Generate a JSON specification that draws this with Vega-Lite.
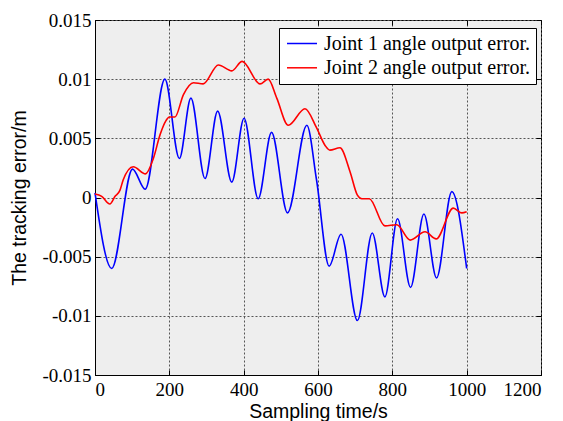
{
  "$schema": "https://vega.github.io/schema/vega-lite/v6.json",
  "width": 446,
  "height": 355,
  "autosize": {"type": "none"},
  "padding": {"left": 95, "top": 20, "right": 22, "bottom": 46},
  "background": "white",
  "config": {
    "view": {"fill": "#eeeeee", "stroke": "black", "strokeWidth": 1},
    "axis": {
      "domainColor": "black",
      "tickColor": "black",
      "labelColor": "black",
      "titleColor": "black",
      "labelFont": "Liberation Serif",
      "labelFontSize": 19,
      "titleFont": "Liberation Sans",
      "titleFontSize": 19.5,
      "titleFontWeight": "normal",
      "gridColor": "#555555",
      "gridDash": [2, 2],
      "gridOpacity": 1,
      "gridWidth": 1
    }
  },
  "datasets": {
    "err": [
      {"t": 0, "e": 0.0004, "joint": "Joint 1 angle output error."},
      {"t": 45, "e": -0.006, "joint": "Joint 1 angle output error."},
      {"t": 101, "e": 0.0024, "joint": "Joint 1 angle output error."},
      {"t": 135, "e": 0.0007, "joint": "Joint 1 angle output error."},
      {"t": 188, "e": 0.01, "joint": "Joint 1 angle output error."},
      {"t": 227, "e": 0.0033, "joint": "Joint 1 angle output error."},
      {"t": 258, "e": 0.0084, "joint": "Joint 1 angle output error."},
      {"t": 296, "e": 0.0016, "joint": "Joint 1 angle output error."},
      {"t": 330, "e": 0.0073, "joint": "Joint 1 angle output error."},
      {"t": 368, "e": 0.0013, "joint": "Joint 1 angle output error."},
      {"t": 401, "e": 0.0067, "joint": "Joint 1 angle output error."},
      {"t": 439, "e": -0.0001, "joint": "Joint 1 angle output error."},
      {"t": 475, "e": 0.0055, "joint": "Joint 1 angle output error."},
      {"t": 518, "e": -0.0013, "joint": "Joint 1 angle output error."},
      {"t": 570, "e": 0.0061, "joint": "Joint 1 angle output error."},
      {"t": 596, "e": 0.0015, "joint": "Joint 1 angle output error."},
      {"t": 630, "e": -0.0058, "joint": "Joint 1 angle output error."},
      {"t": 662, "e": -0.0031, "joint": "Joint 1 angle output error."},
      {"t": 706, "e": -0.0104, "joint": "Joint 1 angle output error."},
      {"t": 746, "e": -0.003, "joint": "Joint 1 angle output error."},
      {"t": 780, "e": -0.0084, "joint": "Joint 1 angle output error."},
      {"t": 814, "e": -0.0018, "joint": "Joint 1 angle output error."},
      {"t": 849, "e": -0.0076, "joint": "Joint 1 angle output error."},
      {"t": 885, "e": -0.0014, "joint": "Joint 1 angle output error."},
      {"t": 919, "e": -0.0068, "joint": "Joint 1 angle output error."},
      {"t": 960, "e": 0.0005, "joint": "Joint 1 angle output error."},
      {"t": 1000, "e": -0.006, "joint": "Joint 1 angle output error."},
      {"t": 0, "e": 0.0003, "joint": "Joint 2 angle output error."},
      {"t": 18, "e": 0.0001, "joint": "Joint 2 angle output error."},
      {"t": 40, "e": -0.00055, "joint": "Joint 2 angle output error."},
      {"t": 54, "e": 0.0001, "joint": "Joint 2 angle output error."},
      {"t": 67, "e": 0.0006, "joint": "Joint 2 angle output error."},
      {"t": 76, "e": 0.0015, "joint": "Joint 2 angle output error."},
      {"t": 103, "e": 0.0026, "joint": "Joint 2 angle output error."},
      {"t": 136, "e": 0.002, "joint": "Joint 2 angle output error."},
      {"t": 157, "e": 0.0033, "joint": "Joint 2 angle output error."},
      {"t": 175, "e": 0.0053, "joint": "Joint 2 angle output error."},
      {"t": 191, "e": 0.0065, "joint": "Joint 2 angle output error."},
      {"t": 200, "e": 0.0068, "joint": "Joint 2 angle output error."},
      {"t": 215, "e": 0.0068, "joint": "Joint 2 angle output error."},
      {"t": 238, "e": 0.0087, "joint": "Joint 2 angle output error."},
      {"t": 265, "e": 0.0097, "joint": "Joint 2 angle output error."},
      {"t": 291, "e": 0.0096, "joint": "Joint 2 angle output error."},
      {"t": 332, "e": 0.0112, "joint": "Joint 2 angle output error."},
      {"t": 368, "e": 0.0107, "joint": "Joint 2 angle output error."},
      {"t": 396, "e": 0.0115, "joint": "Joint 2 angle output error."},
      {"t": 444, "e": 0.0096, "joint": "Joint 2 angle output error."},
      {"t": 466, "e": 0.01, "joint": "Joint 2 angle output error."},
      {"t": 489, "e": 0.0084, "joint": "Joint 2 angle output error."},
      {"t": 520, "e": 0.0061, "joint": "Joint 2 angle output error."},
      {"t": 565, "e": 0.0075, "joint": "Joint 2 angle output error."},
      {"t": 596, "e": 0.0059, "joint": "Joint 2 angle output error."},
      {"t": 619, "e": 0.0044, "joint": "Joint 2 angle output error."},
      {"t": 632, "e": 0.004, "joint": "Joint 2 angle output error."},
      {"t": 659, "e": 0.0042, "joint": "Joint 2 angle output error."},
      {"t": 686, "e": 0.0022, "joint": "Joint 2 angle output error."},
      {"t": 706, "e": 0.0002, "joint": "Joint 2 angle output error."},
      {"t": 718, "e": -0.0001, "joint": "Joint 2 angle output error."},
      {"t": 738, "e": -0.0001, "joint": "Joint 2 angle output error."},
      {"t": 780, "e": -0.0024, "joint": "Joint 2 angle output error."},
      {"t": 812, "e": -0.0023, "joint": "Joint 2 angle output error."},
      {"t": 848, "e": -0.0036, "joint": "Joint 2 angle output error."},
      {"t": 888, "e": -0.0029, "joint": "Joint 2 angle output error."},
      {"t": 918, "e": -0.0035, "joint": "Joint 2 angle output error."},
      {"t": 964, "e": -0.0009, "joint": "Joint 2 angle output error."},
      {"t": 987, "e": -0.0013, "joint": "Joint 2 angle output error."},
      {"t": 1000, "e": -0.0012, "joint": "Joint 2 angle output error."}
    ]
  },
  "data": {"name": "err"},
  "layer": [
    {
      "mark": {"type": "line", "interpolate": "monotone", "strokeWidth": 1.6},
      "encoding": {
        "x": {
          "field": "t", "type": "quantitative",
          "scale": {"domain": [0, 1200], "nice": false, "zero": false},
          "axis": {
            "orient": "bottom", "title": "Sampling time/s",
            "values": [0, 200, 400, 600, 800, 1000, 1200],
            "format": "d", "grid": true, "tickSize": -5, "labelPadding": 10,
            "titlePadding": 3
          }
        },
        "y": {
          "field": "e", "type": "quantitative",
          "scale": {"domain": [-0.015, 0.015], "nice": false, "zero": false},
          "axis": {
            "orient": "left", "title": "The tracking error/m",
            "values": [-0.015, -0.01, -0.005, 0, 0.005, 0.01, 0.015],
            "labelExpr": "replace(format(datum.value, '~g'), '\u2212', '-')",
            "grid": true, "tickSize": -5, "labelPadding": 9,
            "titlePadding": 12
          }
        },
        "color": {
          "field": "joint", "type": "nominal",
          "scale": {"domain": ["Joint 1 angle output error.", "Joint 2 angle output error."], "range": ["#0000ff", "#ff0000"]},
          "legend": {
            "orient": "none", "legendX": 184, "legendY": 8, "title": null,
            "strokeColor": "black", "fillColor": "white", "padding": 5.5,
            "symbolType": "M-1,0H3", "symbolSize": 225, "symbolStrokeWidth": 1.5,
            "labelFont": "Liberation Serif", "labelFontSize": 20, "labelColor": "black",
            "labelOffset": 19.5, "rowPadding": 4.3, "labelLimit": 400
          }
        }
      }
    },
    {
      "mark": {"type": "point", "opacity": 0},
      "encoding": {
        "x": {
          "field": "t", "type": "quantitative",
          "axis": {"orient": "top", "title": null, "labels": false, "grid": false, "domain": false,
                   "values": [0, 200, 400, 600, 800, 1000, 1200], "tickSize": -5}
        },
        "y": {
          "field": "e", "type": "quantitative",
          "axis": {"orient": "right", "title": null, "labels": false, "grid": false, "domain": false,
                   "values": [-0.015, -0.01, -0.005, 0, 0.005, 0.01, 0.015], "tickSize": -5}
        }
      }
    }
  ],
  "resolve": {"axis": {"x": "independent", "y": "independent"}}
}
